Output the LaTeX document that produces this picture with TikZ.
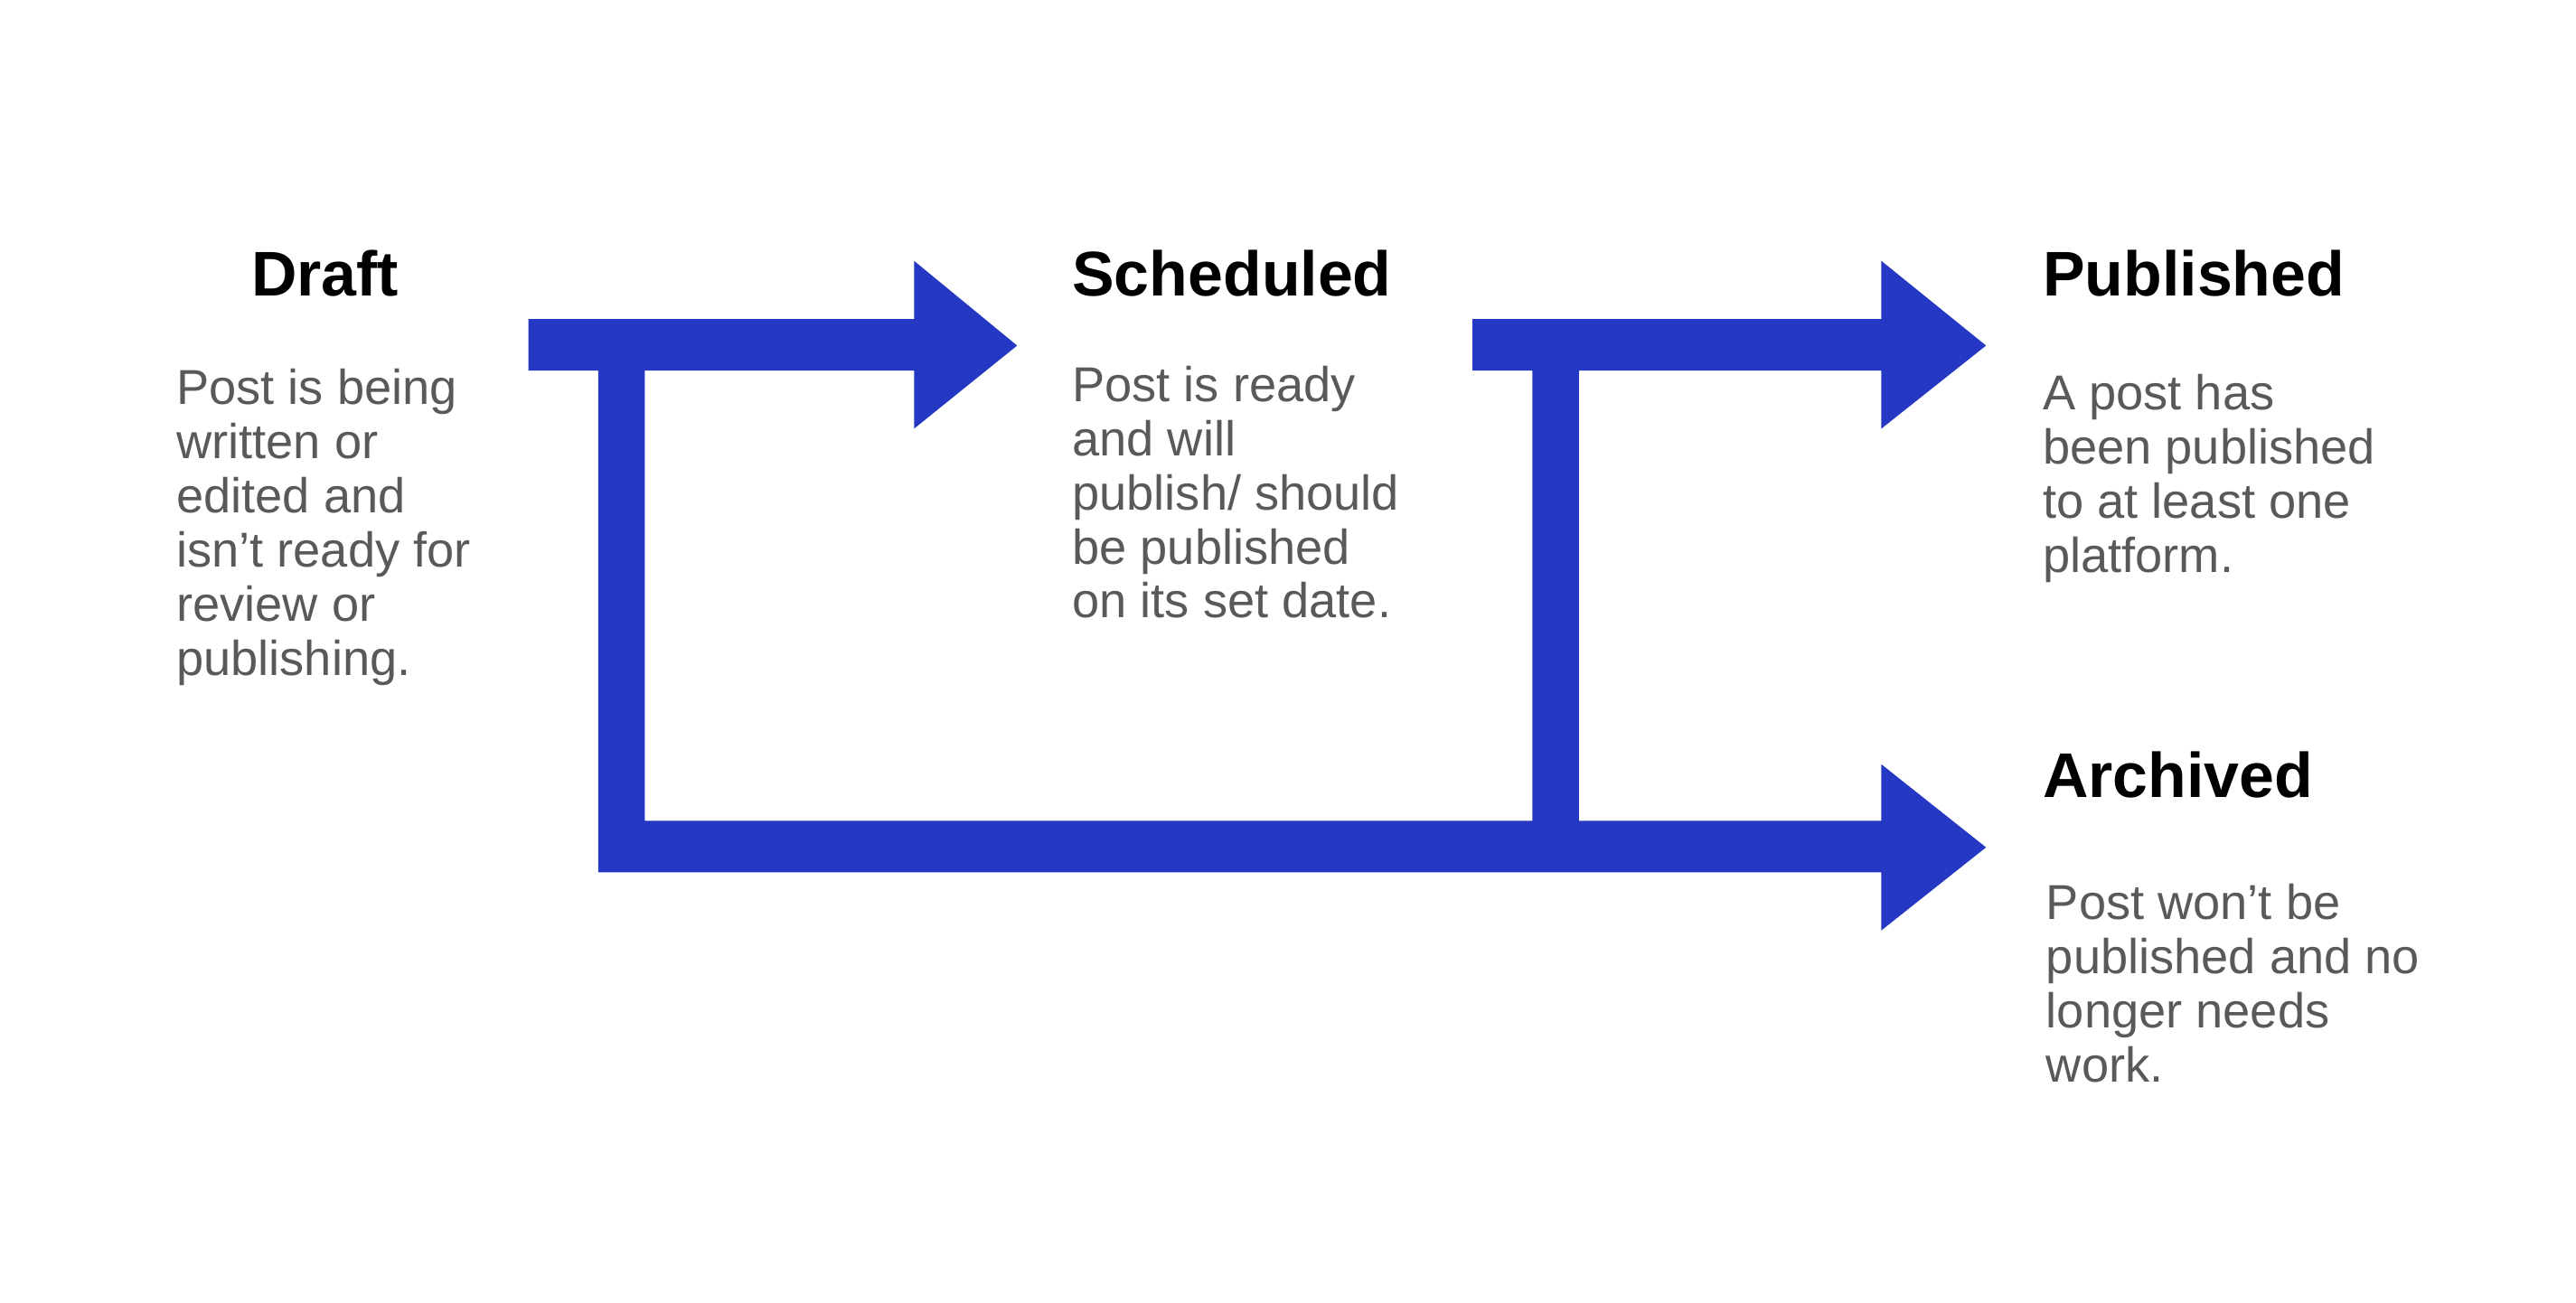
\documentclass[tikz,border=0pt]{standalone}
\usepackage{fontspec}
\setmainfont{Liberation Sans}
\definecolor{flow}{HTML}{2438C4}
\definecolor{bodygray}{HTML}{595959}
\begin{document}
\begin{tikzpicture}[x=1pt,y=-1pt,
  title/.style={anchor=base west,inner sep=0,font=\fontsize{38}{40}\selectfont\bfseries,text=black},
  desc/.style={anchor=north west,inner sep=0,align=left,font=\fontsize{29.5}{32.6}\selectfont,text=bodygray},
  arr/.style={fill=flow,draw=none}]
\useasboundingbox (0,0) rectangle (1550,784);
% arrows
\fill[arr] (318,192) -- (550,192) -- (550,157) -- (612,208) -- (550,258) -- (550,223) -- (388,223) -- (388,494)
  -- (922,494) -- (922,223) -- (886,223) -- (886,192) -- (1132,192) -- (1132,157) -- (1195,208) -- (1132,258)
  -- (1132,223) -- (950,223) -- (950,494) -- (1132,494) -- (1132,460) -- (1195,510) -- (1132,560) -- (1132,525)
  -- (360,525) -- (360,223) -- (318,223) -- cycle;
% texts
\node[title] (t1) at (151,178) {Draft};
\node[desc] (d1) at (106,222) {Post is being\\written or\\edited and\\isn’t ready for\\review or\\publishing.};
\node[title] (t2) at (645,178) {Scheduled};
\node[desc] (d2) at (645,220) {Post is ready\\and will\\publish/ should\\be published\\on its set date.};
\node[title] (t3) at (1229,178) {Published};
\node[desc] (d3) at (1229,225) {A post has\\been published\\to at least one\\platform.};
\node[title] (t4) at (1229,480) {Archived};
\node[desc] (d4) at (1231,532) {Post won’t be\\published and no\\longer needs\\work.};
\end{tikzpicture}
\end{document}
